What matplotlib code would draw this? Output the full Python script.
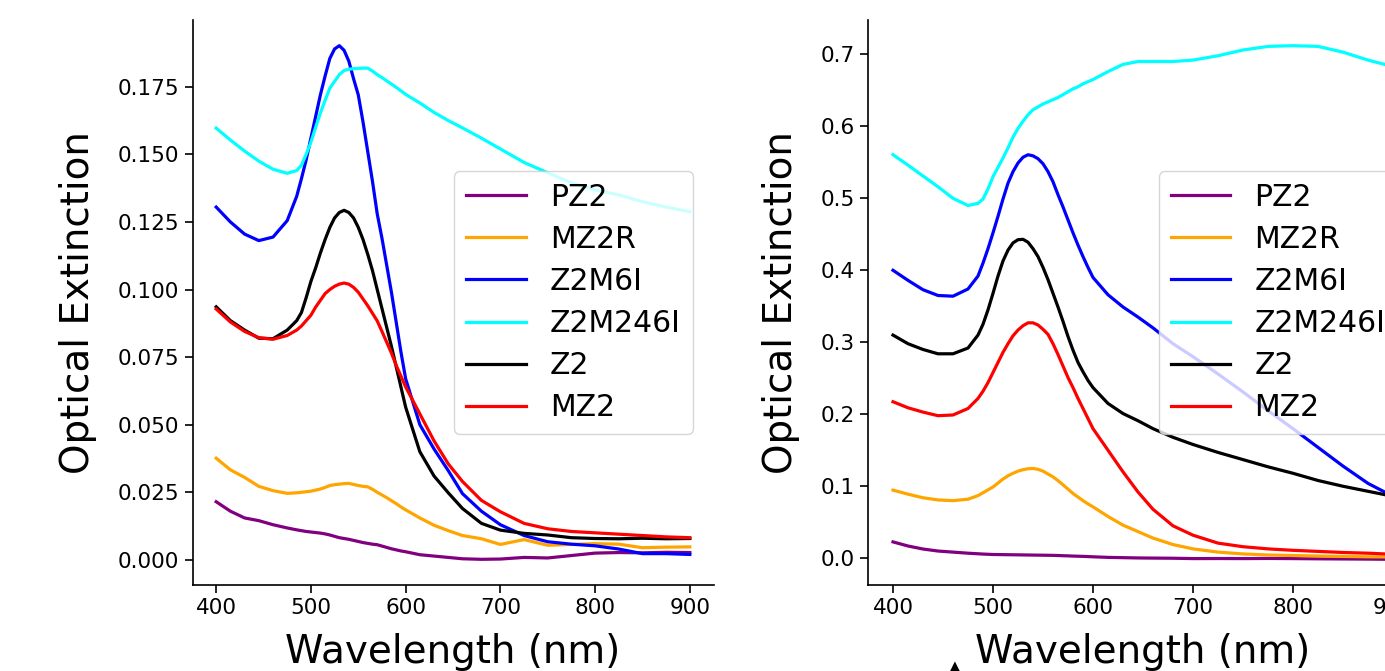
import matplotlib
matplotlib.use("Agg")
import matplotlib.pyplot as plt

# ── Data ──────────────────────────────────────────────────────────────────────
wavelength = [400, 415, 430, 445, 460, 475, 485, 490, 495, 500, 505, 510, 515, 520,
              525, 530, 535, 540, 545, 550, 555, 560, 565, 570, 575, 580, 585, 590,
              595, 600, 615, 630, 645, 660, 680, 700, 725, 750, 775, 800, 825, 850,
              875, 900]

samples = ["PZ2", "MZ2R", "Z2M6I", "Z2M246I", "Z2", "MZ2"]
colors = ["purple", "orange", "blue", "cyan", "black", "red"]

# left panel
left_pz2 = [0.0215, 0.0180, 0.0155, 0.0145, 0.0130, 0.0118, 0.0111, 0.0108, 0.0105,
            0.0103, 0.0101, 0.0099, 0.0096, 0.0092, 0.0087, 0.0082, 0.0079, 0.0076,
            0.0072, 0.0068, 0.0064, 0.0061, 0.0058, 0.0056, 0.0051, 0.0046, 0.0041,
            0.0037, 0.0033, 0.0030, 0.0019, 0.0014, 0.0009, 0.0004, 0.0002, 0.0003,
            0.0009, 0.0007, 0.0016, 0.0025, 0.0027, 0.0026, 0.0028, 0.0027]
left_mz2r = [0.0376, 0.0333, 0.0305, 0.0272, 0.0256, 0.0246, 0.0248, 0.0250, 0.0252,
             0.0254, 0.0258, 0.0262, 0.0268, 0.0275, 0.0278, 0.0280, 0.0282, 0.0283,
             0.0279, 0.0275, 0.0272, 0.0270, 0.0261, 0.0250, 0.0240, 0.0230, 0.0219,
             0.0208, 0.0196, 0.0185, 0.0155, 0.0128, 0.0108, 0.0090, 0.0078, 0.0057,
             0.0075, 0.0054, 0.0057, 0.0060, 0.0058, 0.0045, 0.0047, 0.0048]
left_z2m6i = [0.1305, 0.1250, 0.1205, 0.1181, 0.1194, 0.1255, 0.1345, 0.1410, 0.1480,
              0.1560, 0.1640, 0.1720, 0.1790, 0.1855, 0.1890, 0.1902, 0.1885, 0.1845,
              0.1780, 0.1720, 0.1620, 0.1510, 0.1400, 0.1280, 0.1190, 0.1090, 0.0990,
              0.0880, 0.0770, 0.0670, 0.0500, 0.0410, 0.0330, 0.0245, 0.0180, 0.0130,
              0.0090, 0.0067, 0.0058, 0.0052, 0.0040, 0.0023, 0.0023, 0.0020]
left_z2m246i = [0.1597, 0.1553, 0.1512, 0.1475, 0.1445, 0.1430, 0.1440, 0.1460, 0.1500,
                0.1545, 0.1600, 0.1653, 0.1700, 0.1745, 0.1770, 0.1795, 0.1810, 0.1815,
                0.1817, 0.1818, 0.1819, 0.1819, 0.1808, 0.1795, 0.1784, 0.1772, 0.1760,
                0.1748, 0.1735, 0.1722, 0.1690, 0.1655, 0.1625, 0.1598, 0.1560, 0.1520,
                0.1470, 0.1432, 0.1395, 0.1368, 0.1350, 0.1325, 0.1305, 0.1288]
left_z2 = [0.0936, 0.0885, 0.0850, 0.0820, 0.0818, 0.0850, 0.0885, 0.0915, 0.0970,
           0.1030, 0.1080, 0.1135, 0.1185, 0.1230, 0.1265, 0.1285, 0.1293, 0.1285,
           0.1265, 0.1230, 0.1185, 0.1130, 0.1070, 0.1000, 0.0930, 0.0860, 0.0790,
           0.0715, 0.0640, 0.0565, 0.0400, 0.0310, 0.0248, 0.0190, 0.0135, 0.0110,
           0.0098, 0.0092, 0.0082, 0.0079, 0.0078, 0.0080, 0.0078, 0.0079]
left_mz2 = [0.0928, 0.0880, 0.0845, 0.0822, 0.0816, 0.0830, 0.0850, 0.0865, 0.0885,
            0.0905, 0.0935, 0.0960, 0.0985, 0.1000, 0.1012, 0.1020, 0.1024, 0.1020,
            0.1008, 0.0990, 0.0965, 0.0940, 0.0912, 0.0884, 0.0845, 0.0805, 0.0765,
            0.0720, 0.0680, 0.0640, 0.0540, 0.0440, 0.0355, 0.0290, 0.0220, 0.0178,
            0.0135, 0.0115, 0.0105, 0.0100, 0.0095, 0.0090, 0.0085, 0.0082]

# right panel
right_pz2 = [0.0227, 0.0170, 0.0128, 0.0100, 0.0085, 0.0070, 0.0062, 0.0058, 0.0055,
             0.0052, 0.0051, 0.0050, 0.0049, 0.0048, 0.0047, 0.0046, 0.0045, 0.0044,
             0.0043, 0.0042, 0.0041, 0.0040, 0.0038, 0.0035, 0.0033, 0.0030, 0.0028,
             0.0026, 0.0023, 0.0020, 0.0012, 0.0008, 0.0004, 0.0002, 0.0000, -0.0005,
             -0.0004, -0.0005, -0.0003, -0.0005, -0.0008, -0.0010, -0.0012, -0.0015]
right_mz2r = [0.0946, 0.0890, 0.0840, 0.0810, 0.0800, 0.0820, 0.0870, 0.0910, 0.0950,
              0.0990, 0.1045, 0.1100, 0.1145, 0.1180, 0.1210, 0.1230, 0.1243, 0.1247,
              0.1235, 0.1210, 0.1170, 0.1130, 0.1078, 0.1020, 0.0960, 0.0900, 0.0850,
              0.0800, 0.0755, 0.0714, 0.0580, 0.0460, 0.0370, 0.0280, 0.0190, 0.0130,
              0.0085, 0.0060, 0.0045, 0.0038, 0.0030, 0.0025, 0.0020, 0.0018]
right_z2m6i = [0.400, 0.386, 0.373, 0.365, 0.364, 0.374, 0.392, 0.410, 0.430, 0.452,
               0.475, 0.499, 0.521, 0.537, 0.549, 0.557, 0.5605, 0.559, 0.555, 0.548,
               0.537, 0.523, 0.505, 0.488, 0.470, 0.452, 0.435, 0.419, 0.404, 0.390,
               0.366, 0.349, 0.335, 0.320, 0.298, 0.280, 0.256, 0.231, 0.205, 0.180,
               0.154, 0.128, 0.104, 0.086]
right_z2m246i = [0.5605, 0.546, 0.531, 0.516, 0.500, 0.490, 0.493, 0.499, 0.513, 0.530,
                 0.543, 0.556, 0.570, 0.585, 0.597, 0.607, 0.616, 0.623, 0.627, 0.631,
                 0.634, 0.637, 0.640, 0.644, 0.648, 0.652, 0.655, 0.659, 0.662, 0.665,
                 0.676, 0.686, 0.690, 0.690, 0.690, 0.692, 0.698, 0.706, 0.711, 0.712,
                 0.711, 0.703, 0.692, 0.683]
right_z2 = [0.310, 0.298, 0.290, 0.284, 0.284, 0.292, 0.310, 0.325, 0.345, 0.368,
            0.392, 0.413, 0.428, 0.438, 0.4425, 0.443, 0.439, 0.430, 0.419, 0.404,
            0.387, 0.368, 0.349, 0.329, 0.308, 0.289, 0.272, 0.259, 0.247, 0.237,
            0.215, 0.201, 0.191, 0.180, 0.168, 0.158, 0.147, 0.137, 0.127, 0.118,
            0.108, 0.100, 0.093, 0.086]
right_mz2 = [0.2174, 0.209, 0.203, 0.198, 0.199, 0.208, 0.222, 0.232, 0.244, 0.258,
             0.272, 0.286, 0.298, 0.309, 0.317, 0.323, 0.327, 0.327, 0.324, 0.318,
             0.311, 0.298, 0.283, 0.267, 0.251, 0.237, 0.222, 0.208, 0.194, 0.180,
             0.150, 0.120, 0.092, 0.068, 0.045, 0.032, 0.021, 0.016, 0.013, 0.011,
             0.0095, 0.008, 0.007, 0.0055]

left_series = [left_pz2, left_mz2r, left_z2m6i, left_z2m246i, left_z2, left_mz2]
right_series = [right_pz2, right_mz2r, right_z2m6i, right_z2m246i, right_z2, right_mz2]

# ── Figure ────────────────────────────────────────────────────────────────────
W, H = 1385, 671
fig = plt.figure(figsize=(W / 100, H / 100), dpi=100)
ax1 = fig.add_axes([192.5 / W, 86 / H, 521 / W, 565 / H])
ax2 = fig.add_axes([868 / W, 86 / H, 550 / W, 565 / H])

for ax, series in ((ax1, left_series), (ax2, right_series)):
    for name, vals, c in zip(samples, series, colors):
        ax.plot(wavelength, vals, color=c, lw=2.3, label=name)
    ax.set_xlabel("Wavelength (nm)", fontsize=28, labelpad=11)
    ax.set_ylabel("Optical Extinction", fontsize=28, labelpad=15)
    ax.tick_params(labelsize=15.5, width=1.2, length=6)
    ax.spines[["top", "right"]].set_visible(False)
    for s in ("left", "bottom"):
        ax.spines[s].set_linewidth(1.2)
    ax.legend(loc="center right", fontsize=21.5, labelspacing=0.44,
              borderaxespad=0.7)

ax1.set_xticks([400, 500, 600, 700, 800, 900])
ax1.set_yticks([0.0, 0.025, 0.05, 0.075, 0.1, 0.125, 0.15, 0.175])
ax1.yaxis.set_major_formatter(matplotlib.ticker.FormatStrFormatter("%.3f"))
ax2.set_xticks([400, 500, 600, 700, 800, 900])

# clipped marker at the bottom edge of the original figure
fig.text(955 / W, 3 / H, "\u25B2", ha="center", va="center", fontsize=13)

fig.savefig("out.png", dpi=100, facecolor="white")
plt.close(fig)
